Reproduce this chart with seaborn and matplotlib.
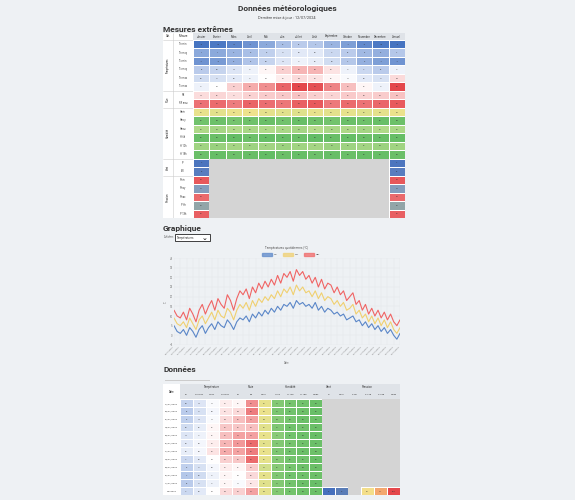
import numpy as np
import pandas as pd
import matplotlib
matplotlib.use("Agg")
import matplotlib.pyplot as plt
import seaborn as sns
from matplotlib.colors import LinearSegmentedColormap, TwoSlopeNorm, Normalize
from matplotlib.patches import Rectangle

# ---------------- data ----------------
months = ["Janvier", "Février", "Mars", "Avril", "Mai", "Juin", "Juillet", "Août",
          "Septembre", "Octobre", "Novembre", "Décembre", "Annuel"]
t1_cats = ["Températures"] * 6 + ["Pluie"] * 2 + ["Humidité"] * 6 + ["Vent"] * 2 + ["Pression"] * 5
t1_meas = ["Tn min", "Tn moy", "Tx min", "Tx moy", "Tn max", "Tx max", "RR", "RR max",
           "Hmin", "Hmoy", "Hmax", "H 6h", "H 12h", "H 18h", "FF", "FXI",
           "Pmin", "Pmoy", "Pmax", "P 6h", "P 18h"]
temp_rows = [
    [-9, -8, -6, -3, 1, 5, 8, 7, 3, -1, -5, -8, -9],
    [1, 1, 3, 5, 9, 13, 15, 15, 11, 8, 4, 2, 7],
    [-3, -2, 2, 6, 10, 14, 17, 16, 12, 7, 2, -1, -3],
    [8, 10, 14, 17, 21, 25, 28, 28, 23, 17, 11, 8, 17],
    [12, 13, 15, 17, 20, 22, 24, 23, 21, 19, 15, 13, 24],
    [17, 20, 25, 29, 32, 36, 39, 38, 33, 27, 21, 17, 39],
]
rain_rows = [
    [14, 16, 13, 18, 20, 22, 24, 19, 17, 21, 18, 20, 24],
    [48, 50, 45, 52, 49, 47, 53, 55, 46, 50, 48, 51, 55],
]
hum_rows = [
    [22, 25, 20, 18, 24, 26, 28, 22, 25, 23, 27, 24, 20],
    [82, 84, 80, 83, 85, 82, 86, 84, 81, 85, 83, 86, 84],
    [56, 60, 54, 58, 55, 57, 60, 52, 58, 56, 60, 55, 57],
    [86, 85, 88, 84, 87, 86, 85, 88, 86, 87, 85, 86, 87],
    [62, 65, 60, 63, 61, 64, 62, 60, 65, 63, 61, 64, 62],
    [85, 87, 84, 86, 88, 85, 87, 84, 86, 85, 87, 86, 85],
]
edge_rows = [3, 8, 95, 30, 90, 45, 93]   # first & last column only

# daily series (every 5 days)
t_min = [5, 2, 1, 3, 0, 4, 2, -1, 3, 5,
         1, 4, 6, 3, 7, 5, 4, 8, 6, 3,
         7, 9, 8, 10, 7, 11, 9, 12, 10, 13,
         11, 14, 12, 15, 13, 16, 15, 17, 14, 18,
         16, 17, 15, 16, 14, 17, 13, 15, 12, 14,
         13, 11, 12, 10, 11, 8, 9, 10, 7, 8,
         5, 7, 4, 6, 3, 5, 2, 4, 1, 3,
         0, -2, 1]
t_mean = [9, 6, 5, 7, 4, 9, 6, 3, 8, 10,
          6, 9, 12, 8, 13, 10, 9, 14, 12, 8,
          13, 16, 14, 17, 13, 18, 15, 19, 17, 20,
          18, 21, 19, 23, 20, 24, 22, 25, 21, 26,
          23, 25, 22, 23, 20, 23, 19, 22, 18, 20,
          19, 16, 18, 15, 17, 13, 14, 16, 11, 13,
          9, 11, 7, 10, 6, 9, 5, 8, 4, 7,
          3, 1, 4]
t_max = [13, 10, 9, 12, 8, 14, 11, 7, 13, 16,
         11, 15, 18, 13, 19, 16, 14, 21, 18, 13,
         19, 23, 21, 24, 19, 25, 22, 27, 24, 28,
         25, 29, 26, 31, 27, 32, 30, 33, 28, 34,
         31, 33, 29, 31, 27, 30, 25, 29, 24, 27,
         26, 22, 25, 21, 23, 18, 20, 22, 16, 18,
         13, 16, 11, 14, 10, 13, 9, 12, 8, 11,
         7, 5, 8]

t2_dates = ["01/07/2024", "02/07/2024", "03/07/2024", "04/07/2024", "05/07/2024", "06/07/2024",
            "07/07/2024", "08/07/2024", "09/07/2024", "10/07/2024", "11/07/2024", "Moyenne"]
t2_temp = [
    [10, 14, 19, 22, 21], [8, 13, 18, 23, 24], [9, 14, 19, 24, 27], [12, 16, 21, 26, 26],
    [14, 17, 21, 27, 30], [15, 18, 22, 28, 31], [16, 18, 23, 29, 30], [11, 15, 20, 25, 26],
    [9, 13, 18, 22, 21], [7, 12, 17, 21, 20], [8, 13, 17, 21, 19], [11, 15, 20, 24, 25],
]
t2_rain = [40, 45, 35, 25, 35, 50, 45, 50, 20, 15, 10, 35]
t2_hum = [
    [22, 75, 80, 82, 85], [20, 78, 82, 84, 86], [24, 74, 80, 85, 84], [26, 76, 83, 82, 85],
    [22, 72, 81, 84, 86], [25, 75, 80, 83, 85], [21, 77, 82, 85, 84], [23, 74, 81, 82, 86],
    [35, 73, 80, 84, 85], [24, 76, 82, 83, 84], [27, 75, 81, 85, 86], [24, 75, 81, 84, 85],
]
t2_pres_last = [0, 5, np.nan, 40, 70, 100]

# ---------------- style ----------------
BG = "#eef1f4"
GREY = "#d4d4d4"
sns.set_theme(style="white")
plt.rcParams["font.family"] = ["Roboto", "DejaVu Sans"]

fig = plt.figure(figsize=(5.75, 5.0), dpi=100, facecolor=BG)

def ax_px(x0, y0, x1, y1):
    return fig.add_axes([x0 / 575, 1 - y1 / 500, (x1 - x0) / 575, (y1 - y0) / 500])

def ftxt(x, y, s, **kw):
    fig.text(x / 575, 1 - y / 500, s, **kw)

temp_cmap = LinearSegmentedColormap.from_list("t", ["#3f6fbf", "#a9bfe6", "#ffffff", "#f4a3a3", "#e23d42"])
temp_norm = TwoSlopeNorm(vmin=-10, vcenter=20, vmax=40)
rain_cmap = LinearSegmentedColormap.from_list("r", ["#ffffff", "#f6b3b3", "#e5474b"])
hum_cmap = LinearSegmentedColormap.from_list("h", ["#f3e38c", "#b6dc8c", "#5fbb63"])
edge_cmap = LinearSegmentedColormap.from_list("e", ["#4670bd", "#7f9bc2", "#97a8a2", "#f2a0a0", "#e5474b"])
pres_cmap = LinearSegmentedColormap.from_list("p", [(0, "#4670bd"), (0.4, "#f3de8a"), (0.7, "#f3a86e"), (1, "#e5474b")])

def layer(ax, arr, mask, cmap, norm):
    sns.heatmap(arr, mask=mask, cmap=cmap, norm=norm, cbar=False, ax=ax,
                linewidths=0.6, linecolor="white", xticklabels=False, yticklabels=False,
                annot=True, fmt=".0f", annot_kws={"fontsize": 1.6, "color": "#333"})

# ---------------- header ----------------
ftxt(287, 9, "Données météorologiques", ha="center", va="center", fontsize=6, fontweight="bold", color="#333")
ftxt(287, 18, "Dernière mise à jour : 12/07/2024", ha="center", va="center", fontsize=2.8, color="#444")
ftxt(163, 29, "Mesures extrêmes", ha="left", va="center", fontsize=6, fontweight="bold", color="#333")
ftxt(163, 229, "Graphique", ha="left", va="center", fontsize=6, fontweight="bold", color="#333")
ftxt(163, 369, "Données", ha="left", va="center", fontsize=6, fontweight="bold", color="#333")

# ---------------- table 1 ----------------
nr = len(t1_meas)
lab = ax_px(163, 33, 193, 218)
lab.set_facecolor("white")
lab.set_xlim(0, 30); lab.set_ylim(nr + 0.8, 0)
lab.set_xticks([]); lab.set_yticks([])
for s in lab.spines.values():
    s.set_visible(False)
lab.text(5, 0.4, "Cat.", fontsize=2, ha="center", va="center")
lab.text(20, 0.4, "Mesure", fontsize=2, ha="center", va="center")
for i, m in enumerate(t1_meas):
    lab.text(20, i + 1.3, m, fontsize=1.8, ha="center", va="center", color="#444")
start = 0
for c in ["Températures", "Pluie", "Humidité", "Vent", "Pression"]:
    n = t1_cats.count(c)
    lab.text(5, 0.8 + start + n / 2, c, fontsize=1.8, rotation=90, ha="center", va="center")
    lab.axhline(0.8 + start + n, color="#ccc", lw=0.4)
    start += n
lab.axvline(10, color="#ccc", lw=0.4)
lab.axhline(0.8, color="#ccc", lw=0.4)

hdr = ax_px(193, 33, 405, 40)
hdr.set_facecolor("#dfe3e8"); hdr.set_xlim(0, 13); hdr.set_ylim(0, 1)
hdr.set_xticks([]); hdr.set_yticks([])
for s in hdr.spines.values():
    s.set_visible(False)
for j, m in enumerate(months):
    hdr.text(j + 0.5, 0.5, m, fontsize=2, ha="center", va="center", color="#333")

t1 = np.full((nr, 13), np.nan)
t1[0:6] = temp_rows
t1[6:8] = rain_rows
t1[8:14] = hum_rows
for k, v in enumerate(edge_rows):
    t1[14 + k, 0] = v
    t1[14 + k, 12] = v
rows = np.arange(nr)[:, None] * np.ones((1, 13))
a1 = ax_px(193, 40, 405, 218)
a1.set_facecolor(GREY)
layer(a1, t1, ~(rows < 6), temp_cmap, temp_norm)
layer(a1, t1, ~((rows >= 6) & (rows < 8)), rain_cmap, Normalize(0, 60))
layer(a1, t1, ~((rows >= 8) & (rows < 14)), hum_cmap, Normalize(15, 90))
layer(a1, t1, ~((rows >= 14) & ~np.isnan(t1)), edge_cmap, Normalize(0, 100))
a1.add_patch(Rectangle((1, 14), 11, 7, facecolor=GREY, edgecolor="none", zorder=5))

# ---------------- chart ----------------
ftxt(164, 237.5, "Afficher :", fontsize=1.8, va="center", color="#555")
box = Rectangle((175 / 575, 1 - 241 / 500), 35 / 575, 7 / 500, transform=fig.transFigure,
                facecolor="white", edgecolor="#222", lw=0.6)
fig.patches.append(box)
ftxt(177, 237.5, "Températures", fontsize=2, va="center", color="#333")
ftxt(205, 237.8, "⌄", fontsize=5, va="center", ha="center", fontweight="bold")

n = len(t_min)
dates = pd.date_range("2023-07-12", periods=n, freq="5D")
df = pd.DataFrame({"date": list(dates) * 3,
                   "val": t_min + t_mean + t_max,
                   "serie": ["Minimum"] * n + ["Moyenne"] * n + ["Maximum"] * n})
ac = ax_px(174, 258, 400, 345)
ac.set_facecolor(BG)
sns.lineplot(data=df, x="date", y="val", hue="serie", ax=ac, lw=0.8,
             palette={"Minimum": "#5a86c8", "Moyenne": "#f0d070", "Maximum": "#f06464"},
             legend=False)
ac.set_ylim(-5, 40)
ac.set_yticks(range(-5, 41, 5))
ac.tick_params(axis="y", labelsize=2, length=0, pad=1, colors="#777")
ac.set_xticks(dates[::2])
ac.set_xticklabels([d.strftime("%d/%m/%Y") for d in dates[::2]], rotation=45, ha="right", fontsize=1.6, color="#777")
ac.tick_params(axis="x", length=0, pad=0.5)
ac.set_xlim(dates[0], dates[-1])
ac.set_xlabel("Date", fontsize=2, color="#777", labelpad=4)
ac.set_ylabel("°C", fontsize=2, color="#777", labelpad=1)
ac.grid(True, color="#e2e5e9", lw=0.3)
for s in ac.spines.values():
    s.set_visible(False)
ftxt(287, 248, "Températures quotidiennes (°C)", fontsize=2.2, ha="center", va="center", color="#555")
for xx, col, name in [(262, "#5a86c8", "Min"), (283, "#f0d070", "Moy"), (304, "#f06464", "Max")]:
    fig.patches.append(Rectangle((xx / 575, 1 - 256 / 500), 10 / 575, 3.5 / 500, transform=fig.transFigure,
                                 facecolor=col, edgecolor=col, alpha=0.7))
    ftxt(xx + 12, 254.3, name, fontsize=1.6, va="center", color="#555")

# ---------------- table 2 ----------------
fig.patches.append(Rectangle((165 / 575, 1 - 381 / 500), 45 / 575, 1 / 500, transform=fig.transFigure,
                             facecolor="#ccc", edgecolor="none"))
nr2 = len(t2_dates)
lab2 = ax_px(163, 384, 180, 495)
lab2.set_facecolor("white"); lab2.set_xlim(0, 1); lab2.set_ylim(nr2 + 2, 0)
lab2.set_xticks([]); lab2.set_yticks([])
for s in lab2.spines.values():
    s.set_visible(False)
lab2.text(0.5, 1, "Date", fontsize=2, ha="center", va="center")
for i, d in enumerate(t2_dates):
    lab2.text(0.5, i + 2.5, d, fontsize=1.7, ha="center", va="center", color="#444")

hdr2 = ax_px(180, 384, 400, 399)
hdr2.set_facecolor("#dfe3e8"); hdr2.set_xlim(0, 17); hdr2.set_ylim(2, 0)
hdr2.set_xticks([]); hdr2.set_yticks([])
for s in hdr2.spines.values():
    s.set_visible(False)
for x, t in [(2.5, "Température"), (5.5, "Pluie"), (8.5, "Humidité"), (11.5, "Vent"), (14.5, "Pression")]:
    hdr2.text(x, 0.4, t, fontsize=2, ha="center", va="center", color="#333")
sub = ["Tn", "Tn moy", "Tmoy", "Tx moy", "Tx", "RR", "Hmin", "H 6h", "H 12h", "H 18h", "Hmax",
       "FF", "Pmin", "P 6h", "P 12h", "P 18h", "Pmax"]
for j, t in enumerate(sub):
    hdr2.text(j + 0.5, 1.4, t, fontsize=1.7, ha="center", va="center", color="#333")

t2 = np.full((nr2, 17), np.nan)
t2[:, 0:5] = t2_temp
t2[:, 5] = t2_rain
t2[:, 6:11] = t2_hum
t2[-1, 11:17] = t2_pres_last
cols = np.ones((nr2, 1)) * np.arange(17)[None, :]
a2 = ax_px(180, 399, 400, 495)
a2.set_facecolor(GREY)
layer(a2, t2, ~(cols < 5), temp_cmap, temp_norm)
layer(a2, t2, ~(cols == 5), rain_cmap, Normalize(0, 60))
layer(a2, t2, ~((cols >= 6) & (cols < 11)), hum_cmap, Normalize(15, 90))
layer(a2, t2, ~((cols >= 11) & ~np.isnan(t2)), pres_cmap, Normalize(0, 100))
a2.add_patch(Rectangle((11, 0), 6, nr2 - 1, facecolor=GREY, edgecolor="none", zorder=5))
a2.add_patch(Rectangle((13, nr2 - 1), 1, 1, facecolor=GREY, edgecolor="none", zorder=5))

fig.savefig("out.png", dpi=100, facecolor=BG)
